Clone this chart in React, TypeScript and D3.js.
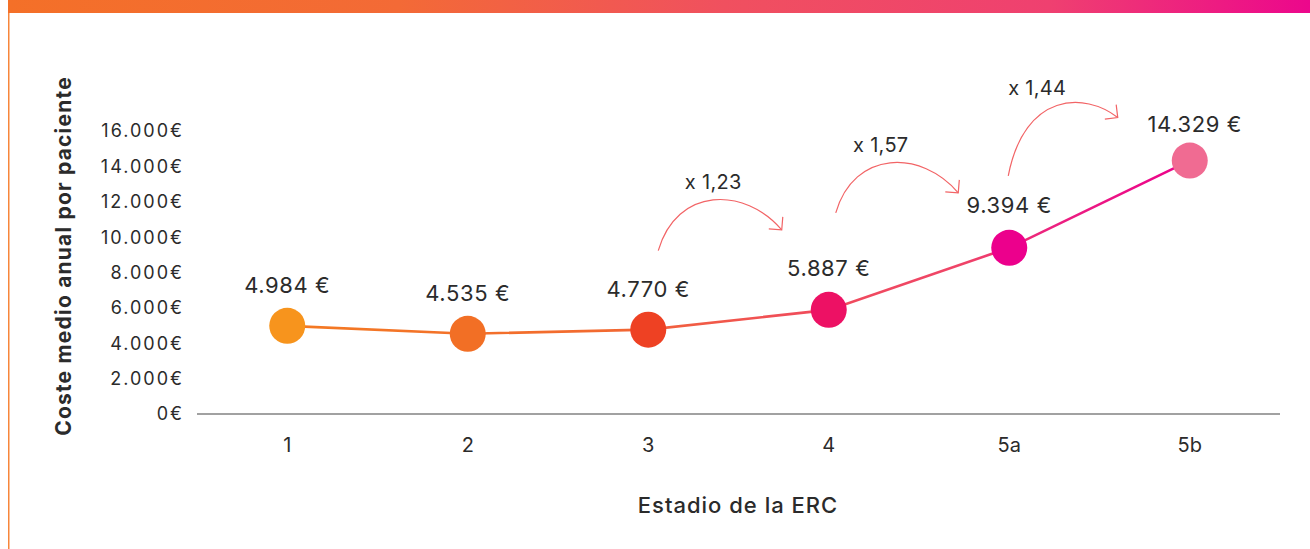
import React from "react";
import * as d3 from "d3";

// ---- data ----
const stages = ["1", "2", "3", "4", "5a", "5b"];
const costs = [4984, 4535, 4770, 5887, 9394, 14329];
const costLabels = ["4.984 €", "4.535 €", "4.770 €", "5.887 €", "9.394 €", "14.329 €"];
const pointColors = ["#F7941D", "#F26F25", "#EE4123", "#ED1164", "#EC008C", "#F06B92"];
const yTicks = [0, 2000, 4000, 6000, 8000, 10000, 12000, 14000, 16000];
const yTickLabels = ["0€", "2.000€", "4.000€", "6.000€", "8.000€", "10.000€", "12.000€", "14.000€", "16.000€"];
const ratioFrom = ["3", "4", "5a"];
const ratioTo = ["4", "5a", "5b"];
const ratioLabels = ["x 1,23", "x 1,57", "x 1,44"];
const yTitle = "Coste medio anual por paciente";
const xTitle = "Estadio de la ERC";

// ---- layout (annotation offsets, px) ----
const arrowLayout = [
  { sdx: 10, sdy: -79, edx: -47, edy: -80, lift: 30, lx: 55 },
  { sdx: 7, sdy: -97, edx: -51, edy: -55, lift: 30, lx: 45 },
  { sdx: -1, sdy: -72, edx: -72, edy: -43, lift: 12, lx: 29 },
];
const labelOffsets = [33, 33, 33, 34, 35, 29];

const W = 1310;
const H = 549;
const FONT = "Inter, 'Open Sans', sans-serif";
const TEXT = "#2b2b2b";
const ARROW = "#F26466";

export default function App() {
  const x = d3.scaleBand<string>().domain(stages).range([197, 1280]);
  const cx = (s: string) => (x(s) as number) + x.bandwidth() / 2;
  const y = d3.scaleLinear().domain([0, 16000]).range([414, 131]);

  const pts = stages.map((s, i) => [cx(s), y(costs[i])] as [number, number]);
  const line = d3.line()(pts) as string;

  const arrows = ratioFrom.map((f, i) => {
    const fi = stages.indexOf(f);
    const ti = stages.indexOf(ratioTo[i]);
    const L = arrowLayout[i];
    const p0: [number, number] = [cx(f) + L.sdx, y(costs[fi]) + L.sdy];
    const p3: [number, number] = [cx(ratioTo[i]) + L.edx, y(costs[ti]) + L.edy];
    const peak = Math.min(p0[1], p3[1]) - L.lift;
    const c = (peak - (p0[1] + p3[1]) / 8) / 0.75;
    const w = p3[0] - p0[0];
    const p1: [number, number] = [p0[0] + 0.15 * w, c];
    const p2: [number, number] = [p0[0] + 0.7 * w, c];
    const p = d3.path();
    p.moveTo(p0[0], p0[1]);
    p.bezierCurveTo(p1[0], p1[1], p2[0], p2[1], p3[0], p3[1]);
    const ang = Math.atan2(p3[1] - p2[1], p3[0] - p2[0]);
    const len = 13;
    const a1 = ang + Math.PI - Math.PI / 4;
    const a2 = ang + Math.PI + Math.PI / 4;
    const head = `M${p3[0] + len * Math.cos(a1)},${p3[1] + len * Math.sin(a1)}L${p3[0]},${p3[1]}L${p3[0] + len * Math.cos(a2)},${p3[1] + len * Math.sin(a2)}`;
    return { d: p.toString(), head, lx: p0[0] + L.lx, ly: peak - 11, label: ratioLabels[i] };
  });

  return (
    <div style={{ position: "absolute", left: 0, top: 0, width: W, height: H, background: "#fff" }}>
      <svg width={W} height={H} style={{ display: "block" }}>
        <defs>
          <linearGradient id="topbar" x1="0" x2="1" y1="0" y2="0">
            <stop offset="0%" stopColor="#F47028" />
            <stop offset="30%" stopColor="#F36A36" />
            <stop offset="55%" stopColor="#F0505F" />
            <stop offset="80%" stopColor="#EF4070" />
            <stop offset="100%" stopColor="#EC078C" />
          </linearGradient>
          <linearGradient id="linegrad" gradientUnits="userSpaceOnUse" x1={pts[0][0]} x2={pts[5][0]} y1="0" y2="0">
            <stop offset="0%" stopColor="#F47A22" />
            <stop offset="35%" stopColor="#F26A30" />
            <stop offset="55%" stopColor="#F04E58" />
            <stop offset="75%" stopColor="#EF4468" />
            <stop offset="85%" stopColor="#EC2080" />
            <stop offset="100%" stopColor="#EC008C" />
          </linearGradient>
        </defs>
        <rect x={8} y={0} width={W - 8} height={13} fill="url(#topbar)" />
        <line x1={8.75} x2={8.75} y1={13} y2={H} stroke="#F7863B" strokeWidth={1.5} />

        {/* y axis tick labels */}
        {yTicks.map((t, i) => (
          <text key={t} x={184} y={y(t)} dy="0.36em" textAnchor="end" fontFamily={FONT} fontSize={18} letterSpacing={2} fill={TEXT}>
            {yTickLabels[i]}
          </text>
        ))}
        {/* x axis */}
        <line x1={197} x2={1280} y1={y(0)} y2={y(0)} stroke="#444" strokeWidth={1.2} />
        {stages.map((s) => (
          <text key={s} x={cx(s)} y={452} textAnchor="middle" fontFamily={FONT} fontSize={20} fill={TEXT}>
            {s}
          </text>
        ))}

        {/* titles */}
        <text transform={`translate(71,256) rotate(-90)`} textAnchor="middle" fontFamily={FONT} fontSize={21} fontWeight={700} letterSpacing={1.2} fill={TEXT}>
          {yTitle}
        </text>
        <text x={738} y={513} textAnchor="middle" fontFamily={FONT} fontSize={22} fontWeight={500} letterSpacing={1} fill={TEXT}>
          {xTitle}
        </text>

        {/* line & points */}
        <path d={line} fill="none" stroke="url(#linegrad)" strokeWidth={2.6} />
        {pts.map((p, i) => (
          <circle key={i} cx={p[0]} cy={p[1]} r={18} fill={pointColors[i]} />
        ))}
        {pts.map((p, i) => (
          <text key={"l" + i} x={p[0] + (i === 5 ? 5 : 0)} y={p[1] - labelOffsets[i]} textAnchor="middle" fontFamily={FONT} fontSize={22} letterSpacing={0.6} fill={TEXT}>
            {costLabels[i]}
          </text>
        ))}

        {/* ratio arrows */}
        {arrows.map((a, i) => (
          <g key={"a" + i}>
            <path d={a.d} fill="none" stroke={ARROW} strokeWidth={1.2} />
            <path d={a.head} fill="none" stroke={ARROW} strokeWidth={1.2} />
            <text x={a.lx} y={a.ly} textAnchor="middle" fontFamily={FONT} fontSize={20} letterSpacing={0.3} fill={TEXT}>
              {a.label}
            </text>
          </g>
        ))}
      </svg>
    </div>
  );
}
